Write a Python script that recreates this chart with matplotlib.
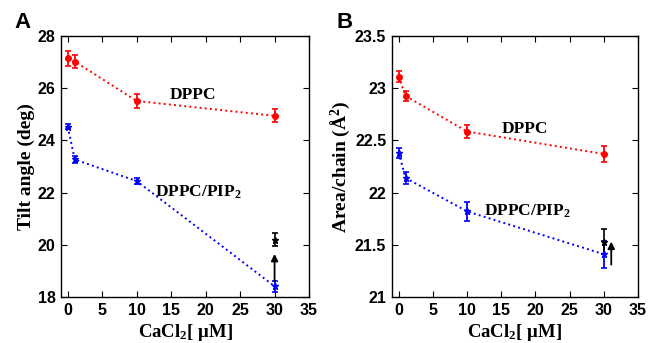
import matplotlib
matplotlib.use("Agg")
import matplotlib.pyplot as plt

plt.rcParams["mathtext.fontset"] = "custom"
plt.rcParams["mathtext.rm"] = "Liberation Serif:bold"
plt.rcParams["mathtext.bf"] = "Liberation Serif:bold"
plt.rcParams["mathtext.it"] = "Liberation Serif:bold"
plt.rcParams["mathtext.default"] = "bf"

# ---- data ----
cacl2 = [0, 1, 10, 30]

tilt_dppc = [27.14, 27.02, 25.51, 24.94]
tilt_dppc_err = [0.28, 0.25, 0.28, 0.25]
tilt_pip2 = [24.52, 23.27, 22.44, 18.41]
tilt_pip2_err = [0.10, 0.12, 0.12, 0.20]
tilt_black_x = [30]
tilt_black = [20.2]
tilt_black_err = [0.25]

area_dppc = [23.11, 22.925, 22.585, 22.37]
area_dppc_err = [0.05, 0.05, 0.06, 0.08]
area_pip2 = [22.38, 22.14, 21.82, 21.41]
area_pip2_err = [0.05, 0.06, 0.09, 0.13]
area_black_x = [30]
area_black = [21.53]
area_black_err = [0.12]

xticks = [0, 5, 10, 15, 20, 25, 30, 35]
tilt_yticks = [18, 20, 22, 24, 26, 28]
area_yticks = [21, 21.5, 22, 22.5, 23, 23.5]
area_yticklabels = ["21", "21.5", "22", "22.5", "23", "23.5"]

tick_font = dict(family="Liberation Sans", weight="bold", size=11.5)
text_font = dict(family="Liberation Serif", weight="bold", size=12.5)
ylab_font = dict(family="Liberation Serif", weight="bold", size=14)
xlab_font = dict(family="Liberation Serif", weight="bold", size=13.5)

fig = plt.figure(figsize=(6.62, 3.43), dpi=100)
axA = fig.add_axes([0.0921, 0.1341, 0.3747, 0.761])
axB = fig.add_axes([0.592, 0.1341, 0.3716, 0.761])


def style(ax):
    ax.tick_params(direction="in", top=True, right=True, length=4, width=0.8, pad=4)
    for s in ax.spines.values():
        s.set_linewidth(1.0)
    for lab in ax.get_xticklabels() + ax.get_yticklabels():
        lab.set_fontfamily(tick_font["family"])
        lab.set_fontweight(tick_font["weight"])
        lab.set_fontsize(tick_font["size"])


def series(ax, x, y, e, color, marker, ms):
    ax.errorbar(x, y, yerr=e, color=color, linestyle=":", linewidth=1.4,
                marker=marker, markersize=ms, capsize=2.5, elinewidth=1.3,
                capthick=1.2)


xlabel = "CaCl$_2$[ $\\mu$M]"

# Panel A
series(axA, cacl2, tilt_dppc, tilt_dppc_err, "#ff0000", "o", 4)
series(axA, cacl2, tilt_pip2, tilt_pip2_err, "#0000ff", "*", 4.5)
axA.errorbar(tilt_black_x, tilt_black, yerr=tilt_black_err, color="black",
             linestyle="none", marker="*", markersize=5, capsize=2.5,
             elinewidth=1.2, capthick=1.2)
axA.annotate("", xy=(30, 19.65), xytext=(30, 18.6),
             arrowprops=dict(arrowstyle="-|>", color="black", lw=1.3,
                             mutation_scale=10, shrinkA=0, shrinkB=0))
axA.text(18.2, 25.74, "DPPC", ha="center", va="center", **text_font)
axA.text(18.9, 22.03, "DPPC/PIP$_2$", ha="center", va="center", **text_font)
axA.set_xlim(-1, 35)
axA.set_ylim(18, 28)
axA.set_xticks(xticks)
axA.set_yticks(tilt_yticks)
axA.set_ylabel("Tilt angle (deg)", labelpad=2, **ylab_font)
axA.set_xlabel(xlabel, labelpad=3, **xlab_font)
style(axA)

# Panel B
series(axB, cacl2, area_dppc, area_dppc_err, "#ff0000", "o", 4)
series(axB, cacl2, area_pip2, area_pip2_err, "#0000ff", "*", 4.5)
axB.errorbar(area_black_x, area_black, yerr=area_black_err, color="black",
             linestyle="none", marker="*", markersize=5, capsize=2.5,
             elinewidth=1.2, capthick=1.2)
axB.annotate("", xy=(31.1, 21.53), xytext=(31.1, 21.31),
             arrowprops=dict(arrowstyle="-|>", color="black", lw=1.3,
                             mutation_scale=10, shrinkA=0, shrinkB=0))
axB.text(18.5, 22.61, "DPPC", ha="center", va="center", **text_font)
axB.text(18.9, 21.82, "DPPC/PIP$_2$", ha="center", va="center", **text_font)
axB.set_xlim(-1, 35)
axB.set_ylim(21, 23.5)
axB.set_xticks(xticks)
axB.set_yticks(area_yticks)
axB.set_yticklabels(area_yticklabels)
axB.set_ylabel("Area/chain (Å$^2$)", labelpad=2, **ylab_font)
axB.set_xlabel(xlabel, labelpad=3, **xlab_font)
style(axB)

fig.text(0.034, 0.935, "A", ha="center", va="center", family="Liberation Sans",
         weight="bold", size=16)
fig.text(0.52, 0.935, "B", ha="center", va="center", family="Liberation Sans",
         weight="bold", size=16)

fig.savefig("out.png", dpi=100)
